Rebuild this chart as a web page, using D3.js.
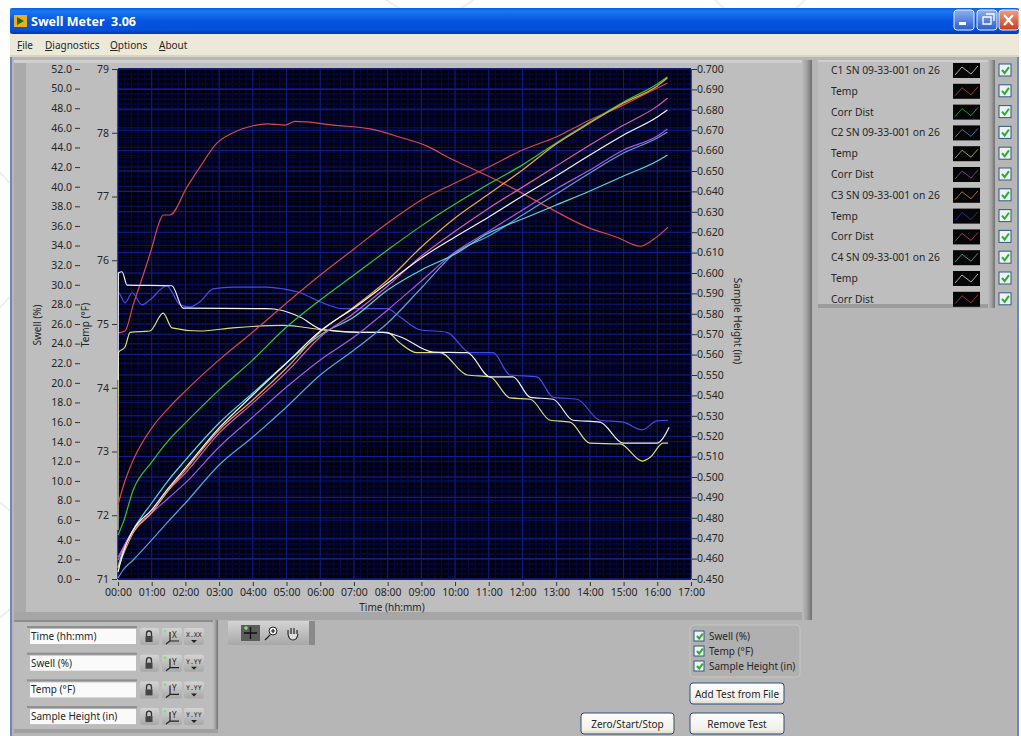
<!DOCTYPE html>
<html><head><meta charset="utf-8">
<script src="https://cdn.jsdelivr.net/npm/d3@7/dist/d3.min.js"></script>
<style>html,body{margin:0;padding:0;background:#fff;overflow:hidden}svg{display:block}text{font-family:"Noto Sans",Roboto,sans-serif;fill:#262626}</style>
</head><body><svg id="c" width="1021" height="736"></svg>
<script>
// ---- data -----------------------------------------------------------
const timeTicks=d3.range(0,18);
const swellTicks=d3.range(0,53,2);
const tempTicks=d3.range(71,80);
const heightTicks=d3.range(0,26).map(i=>-(450+i*10)/1000);

const growthHours=[0,.15,.45,1,1.5,2,3,4,5,6,7,8,9,10,11,12,13,14,15,16,16.3];
const c1Swell=[.71,2.65,5,7.04,9.28,11.32,15.4,18.76,22.02,25.29,27.63,30.18,32.73,34.87,36.91,39.05,41.09,43.23,45.27,47.11,47.82];
const c2Swell=[.1,.92,1.94,3.98,5.91,7.75,11.62,14.48,17.54,20.8,23.35,26.1,29.67,33.24,34.97,37.11,39.25,41.4,43.43,44.96,45.58];
const c3Swell=[1.12,2.45,4.69,6.73,9.07,11.11,15.19,18.25,21.51,25.18,27.73,30.49,33.85,36.81,39.25,41.7,44.35,46.49,48.53,50.27,51.08];
const c4Swell=[1.22,2.96,5,7.75,10.09,12.13,15.91,18.96,22.02,24.88,26.71,29.47,31.51,33.14,35.28,36.71,38.13,39.56,41.09,42.62,43.23];
const c1Corr=[-.4716,-.4775,-.4936,-.5073,-.518,-.5265,-.5427,-.5574,-.5735,-.5868,-.599,-.6113,-.6231,-.6338,-.6436,-.653,-.6637,-.674,-.6838,-.6927,-.6961];
const c2Corr=[-.4608,-.4652,-.474,-.4824,-.4897,-.4971,-.5147,-.5294,-.5441,-.5574,-.5686,-.5819,-.5961,-.6103,-.6205,-.6309,-.6412,-.6505,-.6603,-.6671,-.6706];
const c3Corr=[-.4593,-.4652,-.4735,-.4828,-.4936,-.5019,-.5215,-.5362,-.5514,-.5686,-.5803,-.5936,-.6083,-.6205,-.6318,-.6421,-.6524,-.6627,-.6725,-.6818,-.6857];
const c4Corr=[-.4863,-.4951,-.5083,-.524,-.5338,-.5422,-.5574,-.5711,-.5853,-.599,-.6118,-.6245,-.6358,-.6441,-.652,-.6603,-.6667,-.675,-.6824,-.6907,-.6931];

const c1TempH=[0,.21,.45,.89,1,1.25,1.34,1.54,2.05,2.43,2.94,3.41,4.01,4.42,4.96,5.25,5.61,6.38,7.48,8.37,9.17,9.85,10.74,11.34,12.52,13.92,14.81,15.49,15.87,16.32];
const c1Temp=[74.86,74.89,75.3,76,76.19,76.63,76.71,76.71,77.15,77.46,77.84,78,78.11,78.14,78.12,78.18,78.17,78.12,78.06,77.93,77.79,77.6,77.38,77.23,76.9,76.52,76.36,76.22,76.32,76.52];
const c2TempH=[0,.01,.21,.36,.95,1.34,1.6,2.43,3.41,4.9,6.08,7.18,7.98,8.37,8.87,9.55,10.36,11.04,11.63,12.23,12.82,13.41,14,14.9,15.55,15.79,16.17,16.32];
const c2Temp=[71.77,74.55,74.64,74.87,74.89,75.17,74.94,74.89,74.94,74.98,74.91,74.87,74.87,74.7,74.55,74.55,74.2,74.17,73.84,73.82,73.49,73.46,73.13,73.12,72.85,72.91,73.13,73.13];
const c3TempH=[0,.01,.21,.42,.71,.95,1.45,1.6,1.84,2.14,2.43,2.82,3.41,4.42,4.9,5.4,5.99,6.68,7.98,8.37,8.96,9.76,10.45,11.13,11.63,12.43,12.91,13.62,14.3,14.99,15.55,15.99,16.32];
const c3Temp=[73.18,75.49,75.33,75.49,75.3,75.38,75.6,75.5,75.3,75.27,75.35,75.55,75.58,75.58,75.55,75.49,75.35,75.24,75.24,75.11,74.91,74.87,74.55,74.55,74.2,74.17,73.85,73.82,73.49,73.46,73.34,73.48,73.49];
const c4TempH=[0,.01,.12,.27,1.6,1.93,4.42,4.81,5.4,6.08,7.18,7.86,8.37,9.35,10.36,11.04,11.72,12.23,12.91,13.5,14.3,14.99,15.99,16.17,16.35];
const c4Temp=[74.12,75.8,75.82,75.61,75.6,75.25,75.24,75.22,75.11,74.91,74.87,74.87,74.8,74.56,74.55,74.17,74.17,73.85,73.82,73.49,73.46,73.13,73.13,73.21,73.38];

const legendNames=["C1 SN 09-33-001 on 26","Temp","Corr Dist","C2 SN 09-33-001 on 26","Temp","Corr Dist","C3 SN 09-33-001 on 26","Temp","Corr Dist","C4 SN 09-33-001 on 26","Temp","Corr Dist"];
const legendColors=["#f4f4f4","#d8484c","#3cc83c","#5aa4d8","#d8d878","#a050d8","#e8a040","#3c3cd0","#d05098","#50d8b8","#f4f4f4","#d84040"];
const rangeNames=["Time (hh:mm)","Swell (%)","Temp (°F)","Sample Height (in)"];
const axisChecks=["Swell (%)","Temp (°F)","Sample Height (in)"];
const menuItems=["File","Diagnostics","Options","About"];

// ---- scales ---------------------------------------------------------
const P={l:118,r:691,t:69,b:579};
const x=d3.scaleLinear([0,17],[P.l,P.r]);
const yS=d3.scaleLinear([0,52],[P.b,P.t]);
const yT=d3.scaleLinear([71,79],[P.b,P.t]);
const yH=d3.scaleLinear([-.45,-.7],[P.b,P.t]);

const svg=d3.select("#c");
const defs=svg.append("defs");
function grad(id,stops,horizontal){const g=defs.append("linearGradient").attr("id",id).attr("x1",0).attr("y1",0).attr("x2",horizontal?1:0).attr("y2",horizontal?0:1);
 stops.forEach(s=>g.append("stop").attr("offset",s[0]).attr("stop-color",s[1]));}
grad("title",[[0,"#0a5ce0"],[.12,"#1a78f0"],[.5,"#0554e2"],[.85,"#0450d8"],[1,"#0338a8"]]);
grad("btn",[[0,"#fefefe"],[.8,"#f0efe8"],[1,"#dcd8c8"]]);
grad("edgeR",[[0,"#bcbcbc"],[.5,"#a0a0a0"],[1,"#707070"]],true);
grad("ctl",[[0,"#d4d4d4"],[1,"#a8a8a8"]]);
grad("blueBtn",[[0,"#8cb0f0"],[1,"#2c5cd0"]]);
grad("redBtn",[[0,"#f0a080"],[1,"#c83c18"]]);

function rect(xx,yy,w,h,fill,extra){const r=svg.append("rect").attr("x",xx).attr("y",yy).attr("width",w).attr("height",h).attr("fill",fill);if(extra)Object.entries(extra).forEach(([k,v])=>r.attr(k,v));return r;}
function text(s,xx,yy,size,extra){const t=svg.append("text").attr("x",xx).attr("y",yy).attr("font-size",size).text(s);if(extra)Object.entries(extra).forEach(([k,v])=>t.style(k,v));return t;}

// ---- desktop watermark ----------------------------------------------
[[-60,240,90],[-40,560,70],[430,-55,70],[760,-40,60]].forEach(c=>svg.append("circle").attr("cx",c[0]).attr("cy",c[1]).attr("r",c[2]).attr("fill","none").attr("stroke","#eeeeee").attr("stroke-width",2));

// ---- window ---------------------------------------------------------
rect(10,8,1009,728,"#b6b6b6");
rect(10,8,1009,26,"url(#title)",{rx:3});
rect(10,34,1009,22,"#ece9d8");
rect(10,55,1009,2,"#d8d4c4");
rect(10,57,2,679,"#6c88b8");
rect(1017,57,2,679,"#6c88b8");
svg.append("rect").attr("x",14).attr("y",15).attr("width",13).attr("height",12).attr("fill","#e8b020");
svg.append("path").attr("d","M17 17l7 4-7 4z").attr("fill","#186818");
text("Swell Meter  3.06",31,26,12.5,{fill:"#fff","font-weight":"bold","white-space":"pre"});
// caption buttons
[[954,"url(#blueBtn)"],[977,"url(#blueBtn)"],[999,"url(#redBtn)"]].forEach(b=>rect(b[0],10,20,20,b[1],{rx:3,stroke:"#e8eefc","stroke-width":1}));
rect(959,22,7,3,"#fff");
svg.append("path").attr("d","M983 17h8v7h-8zM986 14h8v7").attr("fill","none").attr("stroke","#fff").attr("stroke-width",1.3);
svg.append("path").attr("d","M1004 15l9 10M1013 15l-9 10").attr("stroke","#fff").attr("stroke-width",2.4);
// menu
const menuX=[17,45,110,159];
menuItems.forEach((m,i)=>{const t=svg.append("text").attr("x",menuX[i]).attr("y",49).attr("font-size",10).attr("fill","#222");
 t.append("tspan").attr("text-decoration","underline").text(m[0]);t.append("tspan").text(m.slice(1));});

// ---- graph panel ----------------------------------------------------
rect(14,60,798,560,"#bebebe");
rect(14,60,12,560,"#aaaaaa");
rect(14,60,798,3,"#cfcfcf");
rect(14,612,798,8,"#a6a6a6");
rect(802,60,10,560,"url(#edgeR)");

// plot background & grid
rect(P.l,P.t,P.r-P.l,P.b-P.t,"#00000e");
const g=svg.append("g");
const minorX=d3.range(0,17.001,.2);
g.selectAll("line.mx").data(minorX).join("line").attr("x1",d=>x(d)).attr("x2",d=>x(d)).attr("y1",P.t).attr("y2",P.b).attr("stroke","#050a44").attr("stroke-width",1);
const minorS=d3.range(0,52.001,.5);
g.selectAll("line.ms").data(minorS).join("line").attr("x1",P.l).attr("x2",P.r).attr("y1",d=>yS(d)).attr("y2",d=>yS(d)).attr("stroke","#040838").attr("stroke-width",1);
const minorH=d3.range(0,101).map(i=>-.45-i*.0025);
g.selectAll("line.mh").data(minorH).join("line").attr("x1",P.l).attr("x2",P.r).attr("y1",d=>yH(d)).attr("y2",d=>yH(d)).attr("stroke","#040838").attr("stroke-width",1);
g.selectAll("line.gs").data(swellTicks).join("line").attr("x1",P.l).attr("x2",P.r).attr("y1",d=>yS(d)).attr("y2",d=>yS(d)).attr("stroke","#0a1464").attr("stroke-width",1);
g.selectAll("line.gh").data(heightTicks).join("line").attr("x1",P.l).attr("x2",P.r).attr("y1",d=>yH(d)).attr("y2",d=>yH(d)).attr("stroke","#101e88").attr("stroke-width",1.1);
g.selectAll("line.gx").data(timeTicks).join("line").attr("x1",d=>x(d)).attr("x2",d=>x(d)).attr("y1",P.t).attr("y2",P.b).attr("stroke","#101e84").attr("stroke-width",1);

// axes
function styleAxis(a,size){a.select(".domain").remove();a.selectAll("text").attr("font-size",size).attr("fill","#262626");a.selectAll("line").attr("stroke","#333");}
styleAxis(svg.append("g").attr("transform",`translate(${P.l-38},0)`).call(d3.axisLeft(yS).tickValues(swellTicks).tickFormat(d3.format(".1f")).tickSize(5).tickPadding(3)),10.5);
styleAxis(svg.append("g").attr("transform",`translate(${P.l-1},0)`).call(d3.axisLeft(yT).tickValues(tempTicks).tickFormat(d3.format("d")).tickSize(5).tickPadding(3)),10.5);
styleAxis(svg.append("g").attr("transform",`translate(${P.r+1},0)`).call(d3.axisRight(yH).tickValues(heightTicks).tickFormat(d=>d3.format(".3f")(d).replace("−","-").replace(/^-/,"")).tickSize(5).tickPadding(0)),10.5);
styleAxis(svg.append("g").attr("transform",`translate(0,${P.b+3})`).call(d3.axisBottom(x).tickValues(timeTicks).tickFormat(d=>String(d).padStart(2,"0")+":00").tickSize(4).tickPadding(3)),10.5);

function vlabel(s,xx,yy,rot){svg.append("text").attr("transform",`translate(${xx},${yy}) rotate(${rot})`).attr("text-anchor","middle").attr("font-size",10).text(s);}
vlabel("Swell (%)",41,325,-90);
vlabel("Temp (°F)",89,325,-90);
vlabel("Sample Height (in)",734,321,90);
text("Time (hh:mm)",392,611,10,{"text-anchor":"middle"});

// traces
const line=(sx,sy)=>d3.line().curve(d3.curveMonotoneX).x(d=>sx(d[0])).y(d=>sy(d[1]));
const traces=[
 [c1TempH,c1Temp,yT,legendColors[1]],
 [c3TempH,c3Temp,yT,"#4a4ae0"],
 [c2TempH,c2Temp,yT,"#dcdc78"],
 [c4TempH,c4Temp,yT,"#f4f4f4"],
 [growthHours,c4Corr,yH,"#d84848"],
 [growthHours,c1Corr,yH,"#34c834"],
 [growthHours,c2Swell,yS,"#58a4dc"],
 [growthHours,c2Corr,yH,"#a858e0"],
 [growthHours,c4Swell,yS,"#58dce0"],
 [growthHours,c3Corr,yH,"#dc5cb0"],
 [growthHours,c3Swell,yS,"#f0a840"],
 [growthHours,c1Swell,yS,"#f8f8f8"]
];
svg.append("g").attr("fill","none").attr("stroke-width",1.2).selectAll("path").data(traces).join("path")
 .attr("d",t=>line(x,t[2])(d3.zip(t[0],t[1]))).attr("stroke",t=>t[3]);

// ---- legend ---------------------------------------------------------
rect(818,60,177,248,"#bebebe");
rect(818,60,177,2,"#cfcfcf");
rect(818,304,177,4,"#9c9c9c");
rect(988,60,7,248,"url(#edgeR)");
const rowY=i=>70+i*20.8;
function check(xx,yy,s){rect(xx,yy,s,s,"#eef2f0",{stroke:"#2c5a80","stroke-width":1});
 svg.append("path").attr("d",`M${xx+3} ${yy+s/2}l${s*.22} ${s*.26}l${s*.36} -${s*.5}`).attr("fill","none").attr("stroke","#30a838").attr("stroke-width",2);}
legendNames.forEach((n,i)=>{const y=rowY(i);
 text(n,831,y+4,10.3);
 rect(953,y-7,27,15,"#060606");
 svg.append("path").attr("d",`M955 ${y+5}L962 ${y-3}L971 ${y+4}L978 ${y-4}`).attr("fill","none").attr("stroke",legendColors[i]).attr("stroke-width",1).attr("opacity",.7);
 check(999,y-6,12);
});

// ---- range panel ----------------------------------------------------
rect(14,620,204,113,"#bcbcbc");
rect(14,620,204,2,"#8c8c8c");
rect(213,620,5,113,"url(#edgeR)");
rect(14,729,204,4,"#a0a0a0");
rangeNames.forEach((n,i)=>{const y=629+i*26.7;
 rect(27,y-3,110,2,"#8e8e8e");
 rect(30,y,106,15,"#fafafa");
 text(n,31,y+11,10);
 rect(140,y-1,19,17,"url(#ctl)",{rx:2});
 rect(145.5,y+7,7,6,"#444");
 svg.append("path").attr("d",`M146.5 ${y+7}v-2.5a2.5 2.5 0 0 1 5 0v2.5`).attr("fill","none").attr("stroke","#333").attr("stroke-width",1.3);
 rect(162,y-1,20,17,"url(#ctl)",{rx:2});
 svg.append("path").attr("d",`M170 ${y+3}v9M170 ${y+12}l-4 3M170 ${y+12}h9`).attr("stroke","#222").attr("stroke-width",1.2).attr("fill","none");
 svg.append("circle").attr("cx",165).attr("cy",y+2).attr("r",1.5).attr("fill","#7ce07c");
 text(i?"Y":"X",172,y+9,8);
 rect(184,y-1,20,17,"url(#ctl)",{rx:2});
 text(i?"Y.YY":"X.XX",186,y+8,6.5,{"font-family":"DejaVu Sans Mono"});
 svg.append("path").attr("d",`M191 ${y+11}h6l-3 3z`).attr("fill","#222");
});

// ---- palette --------------------------------------------------------
rect(228,621,87,24,"url(#ctl)");
rect(309,621,6,24,"#8a8a8a");
rect(241,625,19,16,"#5c5c5c");
svg.append("path").attr("d","M250.5 627v12M244 633h13").attr("stroke","#111").attr("stroke-width",1.3);
svg.append("circle").attr("cx",246).attr("cy",628).attr("r",1.8).attr("fill","#7ce07c");
svg.append("circle").attr("cx",273).attr("cy",631).attr("r",4).attr("fill","#eee").attr("stroke","#222");
svg.append("path").attr("d","M270 635l-5 5M271 631h4M273 629v4").attr("stroke","#222").attr("stroke-width",1.2);
svg.append("path").attr("d","M288 634v-4M291 634v-6M294 634v-6M297 634v-4M288 634q1 6 5 6t5 -6").attr("stroke","#222").attr("fill","#ddd").attr("stroke-width",1.1);

// ---- axis check group & buttons ------------------------------------
rect(690,625,110,52,"#b0b0b0",{rx:4,stroke:"#c6c6c0"});
axisChecks.forEach((n,i)=>{const y=636+i*15;check(694,y-5,10);text(n,709,y+4,10);});
[[690,683,94,21,"Add Test from File"],[581,713,93,21,"Zero/Start/Stop"],[690,713,94,21,"Remove Test"]].forEach(b=>{
 rect(b[0],b[1],b[2],b[3],"url(#btn)",{rx:3,stroke:"#2c4c7c","stroke-width":1});
 text(b[4],b[0]+b[2]/2,b[1]+14.5,10,{"text-anchor":"middle"});
});
</script></body></html>
